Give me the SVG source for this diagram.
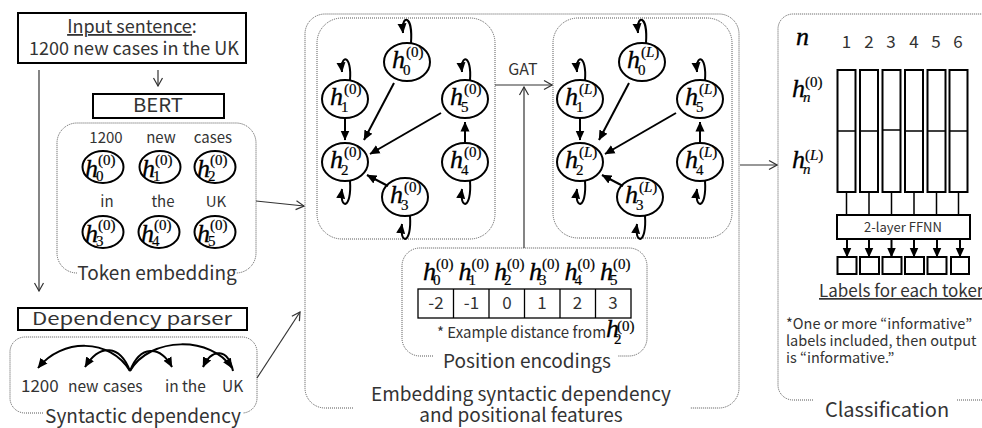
<svg xmlns="http://www.w3.org/2000/svg" width="982" height="428" viewBox="0 0 982 428">
<style>
.t{font-family:"Noto Sans CJK JP","Liberation Sans",sans-serif;fill:#333}
.box{fill:#fff;stroke:#000;stroke-width:2}
.dot{fill:none;stroke:#555;stroke-width:1;stroke-dasharray:1 1}
.node{fill:#fff;stroke:#000;stroke-width:2}
.edge{fill:none;stroke:#000;stroke-width:2;marker-end:url(#fa)}
.conn{fill:none;stroke:#333;stroke-width:1.2;marker-end:url(#oa)}
.cell{fill:#fff;stroke:#000;stroke-width:1.3}
.ln{stroke:#000;stroke-width:1.5}
.mh{font-family:"Liberation Serif","DejaVu Serif",serif;font-style:italic;font-size:26px;fill:#000;stroke:#000;stroke-width:0.35}
.ms{font-family:"Liberation Serif","DejaVu Serif",serif;font-size:15px;fill:#000;stroke:#000;stroke-width:0.2}
.i{font-style:italic}
</style>
<defs>
<marker id="oa" markerUnits="userSpaceOnUse" markerWidth="12" markerHeight="12" viewBox="0 0 12 12" refX="11" refY="6" orient="auto"><path d="M3,1.5 L11,6 L3,10.5" fill="none" stroke="#333" stroke-width="1.2"/></marker>
<marker id="og" markerUnits="userSpaceOnUse" markerWidth="12" markerHeight="12" viewBox="0 0 12 12" refX="11" refY="6" orient="auto"><path d="M3,1.5 L11,6 L3,10.5" fill="none" stroke="#777" stroke-width="1.3"/></marker>
<marker id="fa" markerUnits="userSpaceOnUse" markerWidth="10" markerHeight="10" viewBox="0 0 10 10" refX="9.5" refY="5" orient="auto"><path d="M0,0.5 L10,5 L0,9.5 z" fill="#000"/></marker>
</defs>
<rect width="982" height="428" fill="#fff"/>

<!-- left column -->
<g id="input">
<rect class="box" x="18" y="13" width="228" height="50"/>
<text class="t" x="132" y="33" font-size="18" text-anchor="middle"><tspan text-decoration="underline">Input sentence</tspan>:</text>
<text class="t" x="134" y="55" font-size="18" text-anchor="middle">1200 new cases in the UK</text>
</g>
<g id="bert">
<rect class="box" x="93" y="94" width="131" height="24"/>
<text class="t" x="133" y="112" font-size="19" textLength="50" lengthAdjust="spacingAndGlyphs">BERT</text>
</g>
<g id="token-embedding">
<path class="dot" d="M77,273 A20,20 0 0 1 57,253 L57,143 A20,20 0 0 1 77,123 L236,123 A20,20 0 0 1 256,143 L256,253 A20,20 0 0 1 236,273"/>
<text class="t" x="157" y="280" font-size="19" text-anchor="middle">Token embedding</text>
<g font-size="15" text-anchor="middle">
<text class="t" x="106" y="143">1200</text><text class="t" x="161" y="143">new</text><text class="t" x="213" y="143">cases</text>
<text class="t" x="107" y="207">in</text><text class="t" x="163" y="207">the</text><text class="t" x="216" y="207">UK</text>
</g>
<ellipse class="node" cx="103" cy="167" rx="20.5" ry="16"/>
<ellipse class="node" cx="160" cy="167" rx="20.5" ry="16"/>
<ellipse class="node" cx="215" cy="167" rx="20.5" ry="16"/>
<ellipse class="node" cx="103" cy="232" rx="20.5" ry="16"/>
<ellipse class="node" cx="159" cy="232" rx="20.5" ry="16"/>
<ellipse class="node" cx="215" cy="232" rx="20.5" ry="16"/>
<text class="mh" x="85" y="177" font-size="24">h</text><text class="ms" x="98" y="165" font-size="16">(0)</text><text class="ms" x="96" y="181" font-size="14">0</text>
<text class="mh" x="142" y="177" font-size="24">h</text><text class="ms" x="155" y="165" font-size="16">(0)</text><text class="ms" x="153" y="181" font-size="14">1</text>
<text class="mh" x="197" y="177" font-size="24">h</text><text class="ms" x="210" y="165" font-size="16">(0)</text><text class="ms" x="208" y="181" font-size="14">2</text>
<text class="mh" x="85" y="242" font-size="24">h</text><text class="ms" x="98" y="230" font-size="16">(0)</text><text class="ms" x="96" y="246" font-size="14">3</text>
<text class="mh" x="141" y="242" font-size="24">h</text><text class="ms" x="154" y="230" font-size="16">(0)</text><text class="ms" x="152" y="246" font-size="14">4</text>
<text class="mh" x="197" y="242" font-size="24">h</text><text class="ms" x="210" y="230" font-size="16">(0)</text><text class="ms" x="208" y="246" font-size="14">5</text>
</g>
<g id="dependency-parser">
<rect class="box" x="18" y="308" width="229" height="22"/>
<text class="t" x="32" y="325" font-size="17" textLength="200" lengthAdjust="spacingAndGlyphs">Dependency parser</text>
</g>
<g id="syntactic-dependency">
<path class="dot" d="M43,413 L25,413 A15,15 0 0 1 10,398 L10,352 A15,15 0 0 1 25,337 L242,337 A15,15 0 0 1 257,352 L257,398 A15,15 0 0 1 243,413"/>
<text class="t" x="143" y="423" font-size="19" text-anchor="middle">Syntactic dependency</text>
<g font-size="15.5">
<text class="t" x="21" y="392" font-size="17">1200</text>
<text class="t" x="68" y="392">new</text>
<text class="t" x="103" y="392">cases</text>
<text class="t" x="165" y="392">in</text>
<text class="t" x="182" y="392">the</text>
<text class="t" x="222" y="392">UK</text>
</g>
<path class="edge" d="M130,371 C110,338 62,338 38,368"/>
<path class="edge" d="M130,371 C120,345 100,343 85,367"/>
<path class="edge" d="M130,371 C140,345 160,345 172,367"/>
<path class="edge" d="M130,371 C150,336 212,336 232,368"/>
<path class="edge" d="M233,371 C228,348 212,348 203,367"/>
</g>

<!-- middle -->
<g id="embedding-box">
<path class="dot" d="M353,408 L325,408 A20,20 0 0 1 305,388 L305,34 A20,20 0 0 1 325,14 L719,14 A20,20 0 0 1 739,34 L739,388 A20,20 0 0 1 719,408 L690,408"/>
<text class="t" x="521" y="401" font-size="19" text-anchor="middle">Embedding syntactic dependency</text>
<text class="t" x="521" y="422" font-size="19" text-anchor="middle">and positional features</text>
</g>
<g id="graph-0">
<rect class="dot" x="317" y="18" width="178" height="221" rx="25"/>
<ellipse class="node" cx="407" cy="62" rx="23" ry="19"/>
<ellipse class="node" cx="345" cy="99" rx="23" ry="19"/>
<ellipse class="node" cx="465" cy="99" rx="23" ry="19"/>
<ellipse class="node" cx="345" cy="162" rx="23" ry="19"/>
<ellipse class="node" cx="465" cy="162" rx="23" ry="19"/>
<ellipse class="node" cx="405" cy="197" rx="23" ry="19"/>
<text class="mh" x="392" y="68">h</text><text class="ms" x="406" y="57">(0)</text><text class="ms" x="403" y="75" font-size="14">0</text>
<text class="mh" x="330" y="105">h</text><text class="ms" x="344" y="94">(0)</text><text class="ms" x="341" y="112" font-size="14">1</text>
<text class="mh" x="450" y="105">h</text><text class="ms" x="464" y="94">(0)</text><text class="ms" x="461" y="112" font-size="14">5</text>
<text class="mh" x="330" y="168">h</text><text class="ms" x="344" y="157">(0)</text><text class="ms" x="341" y="175" font-size="14">2</text>
<text class="mh" x="450" y="168">h</text><text class="ms" x="464" y="157">(0)</text><text class="ms" x="461" y="175" font-size="14">4</text>
<text class="mh" x="390" y="203">h</text><text class="ms" x="404" y="192">(0)</text><text class="ms" x="401" y="210" font-size="14">3</text>
<path class="edge" d="M345,119 L345,140"/>
<path class="edge" d="M394,83 L364,140"/>
<path class="edge" d="M441,113 L370,154"/>
<path class="edge" d="M388,186 L367,175"/>
<path class="edge" d="M465,143 L465,122"/>
<path class="edge" d="M411,43 C413,14 401,14 403,33"/>
<path class="edge" d="M350,80 C352,54 340,54 342,72"/>
<path class="edge" d="M470,80 C472,54 460,54 462,72"/>
<path class="edge" d="M350,181 C352,210 339,210 342,189"/>
<path class="edge" d="M470,181 C472,210 459,210 462,189"/>
<path class="edge" d="M410,216 C412,245 399,245 402,224"/>
</g>
<g id="graph-L">
<rect class="dot" x="553" y="18" width="179" height="220" rx="25"/>
<ellipse class="node" cx="642" cy="62" rx="23" ry="19"/>
<ellipse class="node" cx="580" cy="99" rx="23" ry="19"/>
<ellipse class="node" cx="700" cy="99" rx="23" ry="19"/>
<ellipse class="node" cx="580" cy="162" rx="23" ry="19"/>
<ellipse class="node" cx="700" cy="162" rx="23" ry="19"/>
<ellipse class="node" cx="640" cy="197" rx="23" ry="19"/>
<text class="mh" x="627" y="68">h</text><text class="ms" x="641" y="57">(<tspan class="i">L</tspan>)</text><text class="ms" x="638" y="75" font-size="14">0</text>
<text class="mh" x="565" y="105">h</text><text class="ms" x="579" y="94">(<tspan class="i">L</tspan>)</text><text class="ms" x="576" y="112" font-size="14">1</text>
<text class="mh" x="685" y="105">h</text><text class="ms" x="699" y="94">(<tspan class="i">L</tspan>)</text><text class="ms" x="696" y="112" font-size="14">5</text>
<text class="mh" x="565" y="168">h</text><text class="ms" x="579" y="157">(<tspan class="i">L</tspan>)</text><text class="ms" x="576" y="175" font-size="14">2</text>
<text class="mh" x="685" y="168">h</text><text class="ms" x="699" y="157">(<tspan class="i">L</tspan>)</text><text class="ms" x="696" y="175" font-size="14">4</text>
<text class="mh" x="625" y="203">h</text><text class="ms" x="639" y="192">(<tspan class="i">L</tspan>)</text><text class="ms" x="636" y="210" font-size="14">3</text>
<path class="edge" d="M580,119 L580,140"/>
<path class="edge" d="M629,83 L599,140"/>
<path class="edge" d="M676,113 L605,154"/>
<path class="edge" d="M623,186 L602,175"/>
<path class="edge" d="M700,143 L700,122"/>
<path class="edge" d="M646,43 C648,14 636,14 638,33"/>
<path class="edge" d="M585,80 C587,54 575,54 577,72"/>
<path class="edge" d="M705,80 C707,54 695,54 697,72"/>
<path class="edge" d="M585,181 C587,210 574,210 577,189"/>
<path class="edge" d="M705,181 C707,210 694,210 697,189"/>
<path class="edge" d="M645,216 C647,245 634,245 637,224"/>
</g>
<g id="gat-label">
<text class="t" x="523" y="75" font-size="16" text-anchor="middle">GAT</text>
</g>
<g id="position-encodings">
<path class="dot" d="M433,356 L420,356 A18,18 0 0 1 402,338 L402,266 A18,18 0 0 1 420,248 L629,248 A18,18 0 0 1 647,266 L647,338 A18,18 0 0 1 629,356 L618,356"/>
<text class="t" x="527" y="368" font-size="19" text-anchor="middle">Position encodings</text>
<rect class="cell" x="418" y="289" width="213" height="29"/>
<path class="cell" d="M453.5,289 V318 M489,289 V318 M524.5,289 V318 M560,289 V318 M595.5,289 V318"/>
<g font-size="17" text-anchor="middle">
<text class="t" x="436" y="309">-2</text><text class="t" x="471.5" y="309">-1</text><text class="t" x="507" y="309">0</text>
<text class="t" x="542" y="309">1</text><text class="t" x="577.5" y="309">2</text><text class="t" x="613" y="309">3</text>
</g>
<text class="mh" x="423" y="280" font-size="22">h</text><text class="ms" x="436" y="269" font-size="13">(0)</text><text class="ms" x="433" y="285" font-size="12">0</text>
<text class="mh" x="458.5" y="280" font-size="22">h</text><text class="ms" x="471.5" y="269" font-size="13">(0)</text><text class="ms" x="468.5" y="285" font-size="12">1</text>
<text class="mh" x="494" y="280" font-size="22">h</text><text class="ms" x="507" y="269" font-size="13">(0)</text><text class="ms" x="504" y="285" font-size="12">2</text>
<text class="mh" x="529" y="280" font-size="22">h</text><text class="ms" x="542" y="269" font-size="13">(0)</text><text class="ms" x="539" y="285" font-size="12">3</text>
<text class="mh" x="564.5" y="280" font-size="22">h</text><text class="ms" x="577.5" y="269" font-size="13">(0)</text><text class="ms" x="574.5" y="285" font-size="12">4</text>
<text class="mh" x="600" y="280" font-size="22">h</text><text class="ms" x="613" y="269" font-size="13">(0)</text><text class="ms" x="610" y="285" font-size="12">5</text>
<text class="t" x="437" y="338" font-size="15">* Example distance from</text>
<text class="mh" x="606" y="337" font-size="19">h</text><text class="ms" x="617" y="331" font-size="12">(0)</text><text class="ms" x="614" y="344" font-size="11">2</text>
</g>

<!-- right -->
<g id="classification">
<path class="dot" d="M813,400 L793,400 A15,15 0 0 1 778,385 L778,29 A15,15 0 0 1 793,14 L1000,14 M957,400 L1000,400"/>
<text class="t" x="887" y="417" font-size="20" text-anchor="middle">Classification</text>
<text class="mh" x="796" y="45" font-size="20">n</text>
<g font-size="17" text-anchor="middle">
<text class="t" x="846.5" y="48">1</text><text class="t" x="869" y="48">2</text><text class="t" x="891" y="48">3</text>
<text class="t" x="914" y="48">4</text><text class="t" x="936" y="48">5</text><text class="t" x="958" y="48">6</text>
</g>
<text class="mh" x="792" y="97" font-size="24">h</text><text class="ms" x="805" y="87">(0)</text><text class="ms i" x="803" y="102" font-size="14">n</text>
<text class="mh" x="792" y="168" font-size="24">h</text><text class="ms" x="805" y="160">(<tspan class="i">L</tspan>)</text><text class="ms i" x="803" y="174" font-size="14">n</text>
<g class="box">
<rect x="837.5" y="70" width="18" height="122"/>
<rect x="860" y="70" width="18" height="122"/>
<rect x="882.5" y="70" width="18" height="122"/>
<rect x="905" y="70" width="18" height="122"/>
<rect x="927.5" y="70" width="18" height="122"/>
<rect x="949.5" y="70" width="18" height="122"/>
</g>
<path class="ln" stroke-width="2" d="M837.5,131 H855.5 M860,131 H878 M882.5,130 H900.5 M905,131 H923 M927.5,131 H945.5 M949.5,131 H967.5"/>
<path class="ln" d="M846.5,192 V215 M869,192 V215 M891.5,192 V215 M914,192 V215 M936.5,192 V215 M958.5,192 V215"/>
<rect class="box" x="837" y="215" width="133" height="24"/>
<text class="t" x="903" y="232" font-size="13" text-anchor="middle">2-layer FFNN</text>
<path class="edge" stroke-width="1.5" d="M847,239 V257"/>
<path class="edge" stroke-width="1.5" d="M869,239 V257"/>
<path class="edge" stroke-width="1.5" d="M891.5,239 V257"/>
<path class="edge" stroke-width="1.5" d="M914,239 V257"/>
<path class="edge" stroke-width="1.5" d="M937,239 V257"/>
<path class="edge" stroke-width="1.5" d="M960,239 V257"/>
<g class="box">
<rect x="837.5" y="257" width="19" height="17"/>
<rect x="860" y="257" width="19" height="17"/>
<rect x="882.5" y="257" width="19" height="17"/>
<rect x="905" y="257" width="19" height="17"/>
<rect x="927.5" y="257" width="19" height="17"/>
<rect x="951" y="257" width="18" height="17"/>
</g>
<text class="t" x="819" y="297" font-size="17" text-decoration="underline">Labels for each token</text>
<text class="t" x="786" y="329" font-size="14.5">*One or more “informative”</text>
<text class="t" x="786" y="346" font-size="14.5">labels included, then output</text>
<text class="t" x="786" y="363" font-size="14.5">is “informative.”</text>
</g>

<g id="connectors">
<path class="conn" d="M158,70 L158,86"/>
<path class="conn" stroke="#777" stroke-width="1.3" marker-end="url(#og)" d="M39,70 L39,291"/>
<path class="conn" d="M256,201 L304,206"/>
<path class="conn" d="M257,378 L300,312"/>
<path class="conn" d="M495,85 L552,85"/>
<path class="conn" d="M524,248 L524,87"/>
<path class="conn" d="M740,165 L777,165"/>
</g>
</svg>
